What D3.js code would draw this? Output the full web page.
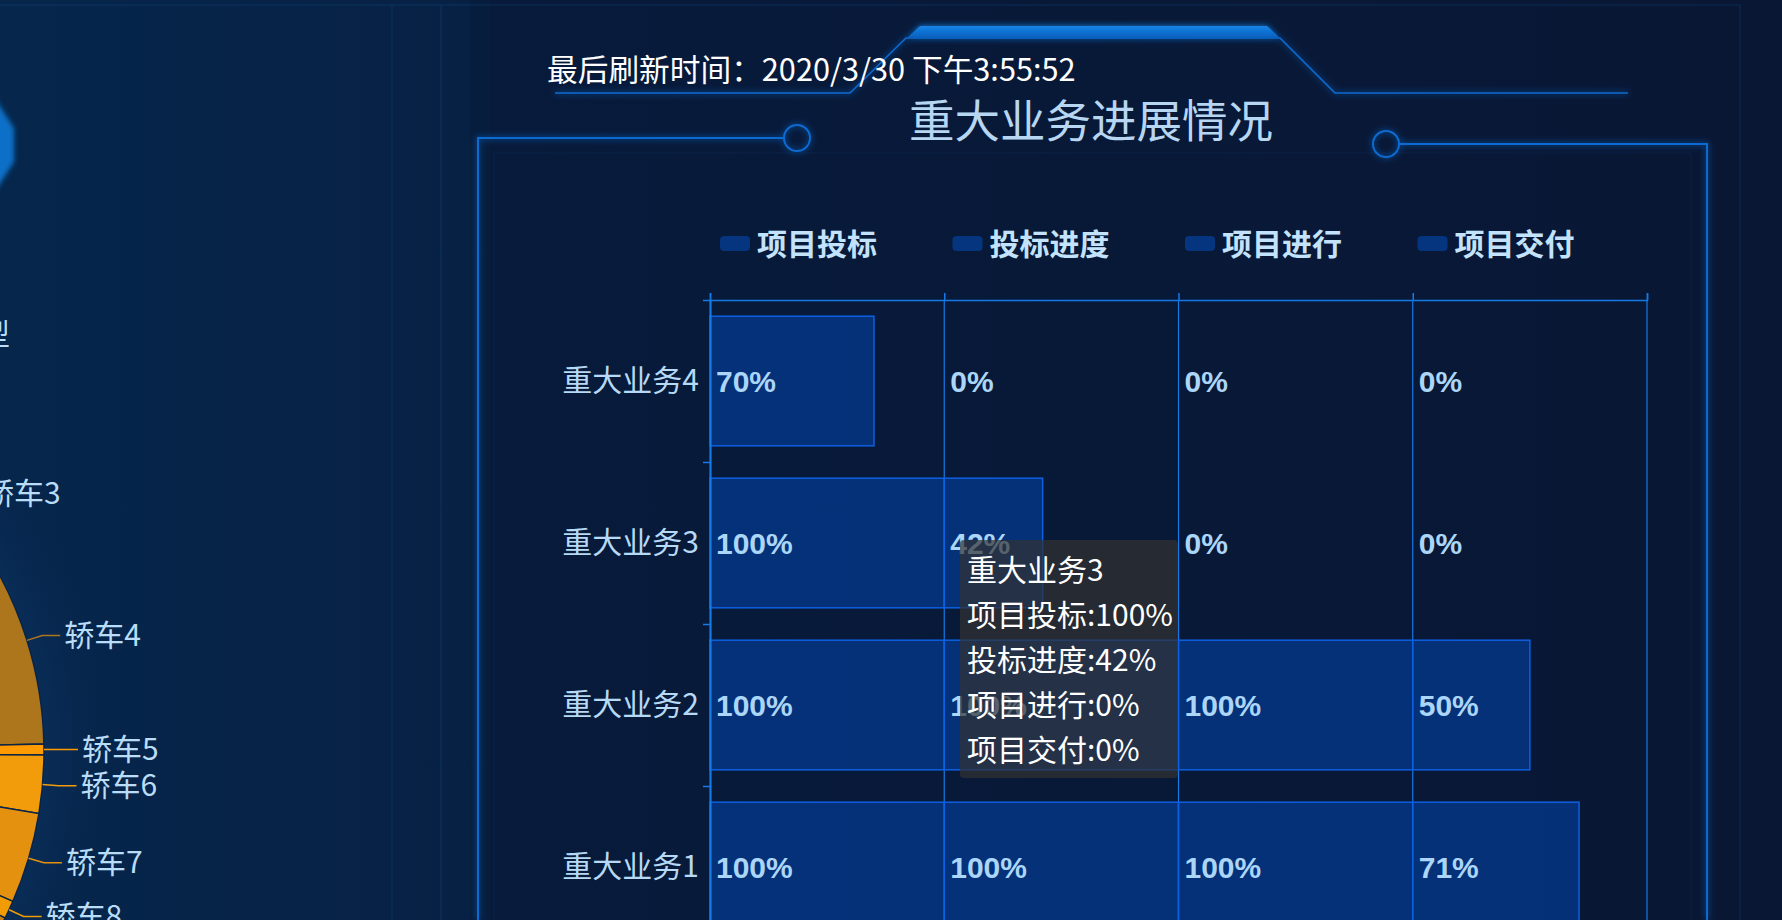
<!DOCTYPE html>
<html><head><meta charset="utf-8">
<script src="https://cdn.jsdelivr.net/npm/d3@7"></script>
<style>
html,body{margin:0;padding:0;background:#081a3a;overflow:hidden;}
svg{display:block;}
</style></head><body>
<svg id="chart" width="1782" height="920"></svg>
<script>
// ---------- data ----------
const categories = ['重大业务1','重大业务2','重大业务3','重大业务4'];
const seriesNames = ['项目投标','投标进度','项目进行','项目交付'];
const bidValues = [100,100,100,70];
const bidProgressValues = [100,100,42,0];
const runValues = [100,100,0,0];
const deliveryValues = [71,50,0,0];
const xTicks = [0,100,200,300,400];
const titleText = '重大业务进展情况';
const refreshText = '最后刷新时间：2020/3/30 下午3:55:52';
const tooltipCategory = '重大业务3';
const pieNames = ['轿车1','轿车2','轿车3','轿车4','轿车5','轿车6','轿车7','轿车8','轿车9','轿车10'];
const pieValues = [6.60,4.65,4.44,8.97,0.47,2.50,3.91,0.78,30.10,37.58];
const pieColors = ['#cf8916','#c48314','#b97c18','#ad761d','#ff9a00','#f29b0b','#e3910f','#f19c05','#c98112','#df8c10'];
const sideText = '车型';

const series = [bidValues, bidProgressValues, runValues, deliveryValues];

const svg = d3.select('#chart');
const defs = svg.append('defs');

const glow = defs.append('filter').attr('id','glow').attr('x','-50%').attr('y','-50%').attr('width','200%').attr('height','200%');
glow.append('feGaussianBlur').attr('stdDeviation',3).attr('result','b');
const gm = glow.append('feMerge');
gm.append('feMergeNode').attr('in','b');
gm.append('feMergeNode').attr('in','SourceGraphic');

const blur = defs.append('filter').attr('id','blur').attr('x','-50%').attr('y','-50%').attr('width','200%').attr('height','200%');
blur.append('feGaussianBlur').attr('stdDeviation',2.5);

const leftGrad = defs.append('linearGradient').attr('id','leftGrad').attr('x1','0').attr('x2','1').attr('y1','0').attr('y2','0');
leftGrad.append('stop').attr('offset','0%').attr('stop-color','#06264c');
leftGrad.append('stop').attr('offset','100%').attr('stop-color','#072144');

const rightGrad = defs.append('linearGradient').attr('id','rightGrad').attr('x1','0').attr('x2','1').attr('y1','0').attr('y2','0');
rightGrad.append('stop').attr('offset','0%').attr('stop-color','#071c3e');
rightGrad.append('stop').attr('offset','100%').attr('stop-color','#091734');

const pieGlow = defs.append('radialGradient').attr('id','pieGlow');
pieGlow.append('stop').attr('offset','70%').attr('stop-color','#1a5ca0').attr('stop-opacity',0.45);
pieGlow.append('stop').attr('offset','100%').attr('stop-color','#0a2a55').attr('stop-opacity',0);

const thickGrad = defs.append('linearGradient').attr('id','thickGrad').attr('x1','0').attr('x2','0').attr('y1','0').attr('y2','1');
thickGrad.append('stop').attr('offset','0%').attr('stop-color','#1584e6');
thickGrad.append('stop').attr('offset','100%').attr('stop-color','#0a62c0');

// ---------- background ----------
svg.append('rect').attr('width',1782).attr('height',920).attr('fill','url(#rightGrad)');
svg.append('rect').attr('width',470).attr('height',920).attr('fill','url(#leftGrad)');
svg.append('rect').attr('x',470).attr('width',20).attr('height',920).attr('fill','#06203f').attr('opacity',0.6);

// faint panel lines
const faint = svg.append('g').attr('stroke','#1a4f8a').attr('stroke-opacity',0.35).attr('fill','none');
faint.append('line').attr('x1',0).attr('x2',1740).attr('y1',5).attr('y2',5);
faint.append('line').attr('x1',392).attr('x2',392).attr('y1',5).attr('y2',920);
faint.append('line').attr('x1',441).attr('x2',441).attr('y1',5).attr('y2',920);
faint.append('line').attr('x1',1740).attr('x2',1740).attr('y1',5).attr('y2',920);
faint.append('rect').attr('x',494).attr('y',153).attr('width',1197).attr('height',800).attr('stroke-opacity',0.18);

// hexagon glow top-left
svg.append('polygon')
  .attr('points',[[-40,100],[-4,100],[14,128],[14,162],[-4,190],[-40,190]].map(p=>p.join(',')).join(' '))
  .attr('fill','#0b6fc8').attr('filter','url(#blur)');

// ---------- frame decoration ----------
const frame = svg.append('g').attr('fill','none').attr('stroke','#0d6ad0').attr('stroke-width',2).attr('filter','url(#glow)');
frame.append('path').attr('d','M478,920V138H784');
frame.append('circle').attr('cx',797).attr('cy',138).attr('r',13);
frame.append('circle').attr('cx',1386).attr('cy',144).attr('r',13);
frame.append('path').attr('d','M1399,144H1707V920');
frame.append('path').attr('d','M555,93H850L906,38H1280L1335,93H1628').attr('stroke-width',1.6);
svg.append('polygon').attr('points','920,26 1267,26 1279,37 908,37')
  .attr('fill','url(#thickGrad)').attr('filter','url(#glow)');

// ---------- partial pie (left panel) ----------
const R = 374;
const pieG = svg.append('g').attr('transform','translate(-330,752)');
pieG.append('circle').attr('r',R+70).attr('fill','url(#pieGlow)');
const pieData = d3.pie().sort(null).value(d=>d)(pieValues);
const arc = d3.arc().innerRadius(0).outerRadius(R);
pieG.selectAll('path.slice').data(pieData).join('path').attr('class','slice')
  .attr('d',arc).attr('fill',(d,i)=>pieColors[i]).attr('stroke','#0b2446').attr('stroke-width',1.5);
pieData.forEach((d,i)=>{
  const a = (d.startAngle+d.endAngle)/2;
  const s = Math.sin(a), c = -Math.cos(a);
  const p1 = [R*s, R*c], p2 = [(R+16)*s, (R+16)*c];
  const dir = s >= 0 ? 1 : -1;
  const p3 = [p2[0]+18*dir, p2[1]];
  pieG.append('polyline').attr('points',[p1,p2,p3].map(p=>p.join(',')).join(' '))
    .attr('fill','none').attr('stroke',pieColors[i]).attr('stroke-width',1.5);
  pieG.append('text').attr('x',p3[0]+4*dir).attr('y',p3[1]).attr('dy','0.35em')
    .attr('text-anchor',dir>0?'start':'end')
    .attr('font-family','"Noto Sans CJK SC", sans-serif').attr('font-size',30)
    .attr('fill','#b9dcf7').text(pieNames[i]);
});
svg.append('text').attr('x',10).attr('y',334).attr('dy','0.35em').attr('text-anchor','end')
  .attr('font-family','"Noto Sans CJK SC", sans-serif').attr('font-size',30).attr('fill','#b9dcf7').text(sideText);

// ---------- texts ----------
svg.append('text').attr('x',547).attr('y',70).attr('dy','0.35em')
  .attr('font-family','"Noto Sans CJK SC", sans-serif').attr('font-size',30.7).attr('fill','#ffffff')
  .text(refreshText);
svg.append('text').attr('x',1091).attr('y',122).attr('dy','0.36em').attr('text-anchor','middle')
  .attr('font-family','"Noto Sans CJK SC", sans-serif').attr('font-size',45.5).attr('fill','#b6d6f2')
  .text(titleText);

// ---------- chart ----------
const x = d3.scaleLinear().domain([0,400]).range([710,1647]);
const y = d3.scaleBand().domain(categories.slice().reverse()).range([300,948]).paddingInner(0.2).paddingOuter(0.1);
const yb = d3.scaleLinear().domain([0,categories.length]).range([300,948]);
const axisColor = '#1579e6';

// vertical split lines
svg.append('g').selectAll('line').data(xTicks.slice(1)).join('line')
  .attr('x1',d=>x(d)).attr('x2',d=>x(d)).attr('y1',300).attr('y2',948)
  .attr('stroke',axisColor).attr('stroke-width',1.2);

// bars
const barG = svg.append('g');
series.forEach((vals,i)=>{
  const base = xTicks[i];
  barG.selectAll(null).data(categories).join('rect')
    .attr('x',x(base))
    .attr('y',d=>y(d))
    .attr('width',(d,j)=>Math.max(0,x(base+vals[j])-x(base)))
    .attr('height',y.bandwidth())
    .attr('fill','#04398f').attr('fill-opacity',0.75)
    .attr('stroke','#0c60e2').attr('stroke-width',1.5);
});

// x axis (top)
const xAxisG = svg.append('g').attr('transform','translate(0,300)')
  .call(d3.axisTop(x).tickValues(xTicks).tickSize(7).tickFormat(''));
xAxisG.selectAll('path,line').attr('stroke',axisColor).attr('stroke-width',1.5);

// y axis
const yAxisG = svg.append('g').attr('transform','translate(710,0)')
  .call(d3.axisLeft(y).tickSize(0).tickPadding(11));
yAxisG.select('.domain').attr('stroke',axisColor).attr('stroke-width',2.2);
yAxisG.selectAll('text').attr('font-family','"Noto Sans CJK SC", sans-serif').attr('font-size',30).attr('fill','#b6d9f5');
const ybG = svg.append('g').attr('transform','translate(710,0)')
  .call(d3.axisLeft(yb).ticks(categories.length).tickSize(7).tickFormat(''));
ybG.select('.domain').remove();
ybG.selectAll('line').attr('stroke',axisColor).attr('stroke-width',1.5);

// value labels
const labG = svg.append('g');
series.forEach((vals,i)=>{
  const base = xTicks[i];
  labG.selectAll(null).data(categories).join('text')
    .attr('x',x(base)+6)
    .attr('y',d=>y(d)+y.bandwidth()/2)
    .attr('dy','0.36em')
    .attr('font-family','"Liberation Sans", Arial, sans-serif').attr('font-weight','bold').attr('font-size',30)
    .attr('fill','#acd6f8')
    .text((d,j)=>vals[j]+'%');
});

// legend
const legend = svg.append('g');
seriesNames.forEach((n,i)=>{
  const lx = 720 + i*232.5;
  legend.append('rect').attr('x',lx).attr('y',236).attr('width',30).attr('height',15).attr('rx',4)
    .attr('fill','#06357f');
  legend.append('text').attr('x',lx+37).attr('y',244).attr('dy','0.36em')
    .attr('font-family','"Noto Sans CJK SC", sans-serif').attr('font-weight','bold').attr('font-size',30)
    .attr('fill','#c3e2fb').text(n);
});

// tooltip
const ti = categories.indexOf(tooltipCategory);
const tipLines = [tooltipCategory].concat(seriesNames.map((n,i)=>n+':'+series[i][ti]+'%'));
const tip = svg.append('g').attr('transform','translate(960,540)');
tip.append('rect').attr('width',218).attr('height',238).attr('rx',4).attr('fill','rgba(50,50,50,0.7)');
tip.selectAll('text').data(tipLines).join('text')
  .attr('x',7).attr('y',(d,i)=>30+i*45).attr('dy','0.36em')
  .attr('font-family','"Noto Sans CJK SC", sans-serif').attr('font-size',30).attr('fill','#ffffff')
  .text(d=>d);
</script>
</body></html>
